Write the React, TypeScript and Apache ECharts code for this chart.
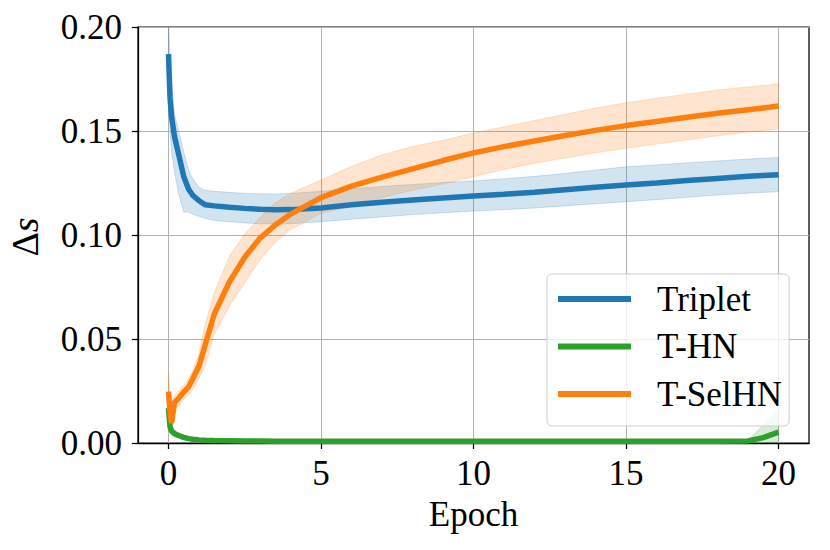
import React, { useEffect, useRef } from "react";
import * as echarts from "echarts";

const epochs = [0, 0.05, 0.1, 0.2, 0.33, 0.5, 0.66, 0.8, 1.0, 1.2, 1.5, 2, 2.5, 3, 3.5, 4, 5, 6, 7, 8, 9, 10, 11, 12, 13, 14, 15, 16, 17, 18, 19, 19.5, 20];

const tripletMean = [0.187, 0.166, 0.157, 0.147, 0.139, 0.128, 0.122, 0.119, 0.1165, 0.1145, 0.114, 0.1133, 0.1128, 0.1124, 0.1121, 0.1122, 0.113, 0.1145, 0.1158, 0.1168, 0.1178, 0.1188, 0.1196, 0.1205, 0.1218, 0.123, 0.124, 0.125, 0.1262, 0.1272, 0.1282, 0.1286, 0.129];
const tripletUpper = [0.205, 0.185, 0.172, 0.158, 0.15, 0.14, 0.131, 0.127, 0.123, 0.1215, 0.121, 0.1205, 0.12, 0.1198, 0.1197, 0.12, 0.121, 0.1222, 0.1233, 0.1243, 0.1252, 0.126, 0.127, 0.1282, 0.1296, 0.1312, 0.1328, 0.1337, 0.1347, 0.1356, 0.1365, 0.1369, 0.1373];
const tripletLower = [0.17, 0.15, 0.14, 0.13, 0.12, 0.111, 0.111, 0.11, 0.109, 0.108, 0.107, 0.1064, 0.1058, 0.1054, 0.1053, 0.1054, 0.1064, 0.1076, 0.1087, 0.1098, 0.1107, 0.1115, 0.1122, 0.113, 0.114, 0.115, 0.116, 0.117, 0.1181, 0.1192, 0.1201, 0.1205, 0.1208];

const thnMean = [0.0168, 0.0078, 0.0058, 0.0045, 0.0036, 0.0027, 0.0021, 0.0018, 0.0015, 0.0013, 0.0012, 0.0011, 0.001, 0.001, 0.0009, 0.0009, 0.0009, 0.0008, 0.0008, 0.0008, 0.0008, 0.0008, 0.0008, 0.0008, 0.0008, 0.0008, 0.0008, 0.0008, 0.0008, 0.0008, 0.001, 0.0026, 0.0052];
const thnUpper = [0.024, 0.011, 0.0078, 0.006, 0.0048, 0.0037, 0.003, 0.0026, 0.0022, 0.0019, 0.0017, 0.0015, 0.0013, 0.0012, 0.0011, 0.0011, 0.001, 0.001, 0.001, 0.001, 0.001, 0.001, 0.001, 0.001, 0.001, 0.001, 0.001, 0.001, 0.001, 0.001, 0.0014, 0.0085, 0.0165];
const thnLower = [0.0096, 0.0046, 0.0038, 0.003, 0.0024, 0.0017, 0.0012, 0.001, 0.0008, 0.0007, 0.0007, 0.0006, 0.0006, 0.0005, 0.0004, 0.0004, 0.0004, 0.0003, 0.0003, 0.0003, 0.0003, 0.0003, 0.0003, 0.0003, 0.0003, 0.0003, 0.0003, 0.0003, 0.0003, 0.0003, 0.0003, 0.0002, 0.0001];

const selMean = [0.0247, 0.015, 0.0096, 0.0195, 0.0215, 0.0245, 0.027, 0.031, 0.037, 0.047, 0.062, 0.0775, 0.0893, 0.0985, 0.1048, 0.11, 0.118, 0.1235, 0.1278, 0.1318, 0.1358, 0.1395, 0.1425, 0.1452, 0.1478, 0.1503, 0.1526, 0.1546, 0.1566, 0.1585, 0.1602, 0.1611, 0.162];
const selUpper = [0.034, 0.026, 0.018, 0.023, 0.025, 0.028, 0.031, 0.035, 0.043, 0.057, 0.072, 0.09, 0.1005, 0.1085, 0.1155, 0.12, 0.1264, 0.133, 0.1385, 0.1425, 0.1455, 0.149, 0.152, 0.155, 0.158, 0.161, 0.1636, 0.1657, 0.1677, 0.1697, 0.1712, 0.1719, 0.1726];
const selLower = [0.015, 0.008, 0.004, 0.016, 0.018, 0.021, 0.023, 0.026, 0.031, 0.037, 0.052, 0.066, 0.077, 0.088, 0.0965, 0.1025, 0.1104, 0.114, 0.118, 0.1215, 0.1245, 0.128, 0.1315, 0.1345, 0.137, 0.1395, 0.1417, 0.1437, 0.1457, 0.1477, 0.1495, 0.1503, 0.151];

const xTicks = [0, 5, 10, 15, 20];
const seriesNames = ["Triplet", "T-HN", "T-SelHN"];
const colors = ["#1f77b4", "#2ca02c", "#ff7f0e"];
const bandFills = ["rgba(31,119,180,0.2)", "rgba(44,160,44,0.2)", "rgba(255,127,14,0.2)"];

const FONT = "'Liberation Serif', 'Times New Roman', Times, serif";

function band(upper: number[], lower: number[], fill: string) {
  return {
    type: "custom",
    coordinateSystem: "cartesian2d",
    clip: true,
    silent: true,
    z: 2,
    data: [[epochs[0], lower[0]]],
    renderItem: (_params: any, api: any) => {
      const pts: number[][] = [];
      for (let i = 0; i < epochs.length; i++) pts.push(api.coord([epochs[i], upper[i]]));
      for (let i = epochs.length - 1; i >= 0; i--) pts.push(api.coord([epochs[i], lower[i]]));
      return {
        type: "polygon",
        shape: { points: pts },
        style: { fill, stroke: fill, lineWidth: 1 },
      };
    },
  };
}

function line(name: string, mean: number[], color: string) {
  return {
    type: "line",
    name,
    data: epochs.map((e, i) => [e, mean[i]]),
    symbol: "none",
    showSymbol: false,
    clip: true,
    z: 2,
    lineStyle: { width: 5.5, color },
    itemStyle: { color },
  };
}

export default function App() {
  const ref = useRef<HTMLDivElement>(null);
  useEffect(() => {
    const chart = echarts.init(ref.current!, null, { renderer: "svg", width: 830, height: 550 });
    const option: any = {
      animation: false,
      backgroundColor: "#ffffff",
      textStyle: { fontFamily: FONT },
      grid: {
        left: 138,
        right: 21,
        top: 27,
        bottom: 107,
        show: true,
        borderColor: "#000",
        borderWidth: 1.25,
        backgroundColor: "transparent",
      },
      xAxis: {
        type: "value",
        min: -1,
        max: 21,
        name: "Epoch",
        nameLocation: "middle",
        nameGap: 54,
        nameTextStyle: { fontFamily: FONT, fontSize: 35, color: "#000" },
        axisLine: { show: true, onZero: false, lineStyle: { color: "#000", width: 1.25 } },
        axisTick: { show: true, length: 6, customValues: xTicks, lineStyle: { color: "#000", width: 1.25 } },
        axisLabel: { customValues: xTicks, margin: 13, fontFamily: FONT, fontSize: 35, color: "#000" },
        splitLine: { show: true, lineStyle: { color: "#b0b0b0", width: 1 } },
      },
      yAxis: {
        type: "value",
        min: 0,
        max: 0.2,
        interval: 0.05,
        axisLine: { show: true, onZero: false, lineStyle: { color: "#000", width: 1.25 } },
        axisTick: { show: true, length: 6, lineStyle: { color: "#000", width: 1.25 } },
        axisLabel: {
          margin: 16,
          fontFamily: FONT,
          fontSize: 35,
          color: "#000",
          formatter: (v: number) => v.toFixed(2),
        },
        splitLine: { show: true, lineStyle: { color: "#b0b0b0", width: 1 } },
      },
      legend: {
        data: seriesNames,
        orient: "vertical",
        left: 547,
        top: 274,
        padding: [7, 7, 14, 11],
        itemGap: 11.5,
        itemWidth: 73,
        itemHeight: 6,
        icon: "rect",
        selectedMode: false,
        backgroundColor: "rgba(255,255,255,0.8)",
        borderColor: "#cccccc",
        borderWidth: 1,
        borderRadius: 5,
        textStyle: { fontFamily: FONT, fontSize: 35, color: "#000", lineHeight: 36, padding: [0, 0, 0, 21] },
      },
      graphic: [
        {
          type: "text",
          x: 25,
          y: 237,
          rotation: Math.PI / 2,
          style: {
            text: "{d|Δ}{s|s}",
            align: "center",
            verticalAlign: "middle",
            rich: {
              d: { fontFamily: FONT, fontSize: 38, fill: "#000" },
              s: { fontFamily: FONT, fontSize: 38, fontStyle: "italic", fill: "#000" },
            },
          },
        },
      ],
      series: [
        band(tripletUpper, tripletLower, bandFills[0]),
        line(seriesNames[0], tripletMean, colors[0]),
        band(thnUpper, thnLower, bandFills[1]),
        line(seriesNames[1], thnMean, colors[1]),
        band(selUpper, selLower, bandFills[2]),
        line(seriesNames[2], selMean, colors[2]),
      ],
    };
    chart.setOption(option);
    return () => chart.dispose();
  }, []);
  return <div ref={ref} style={{ position: "absolute", left: 0, top: 0, width: 830, height: 550 }} />;
}
